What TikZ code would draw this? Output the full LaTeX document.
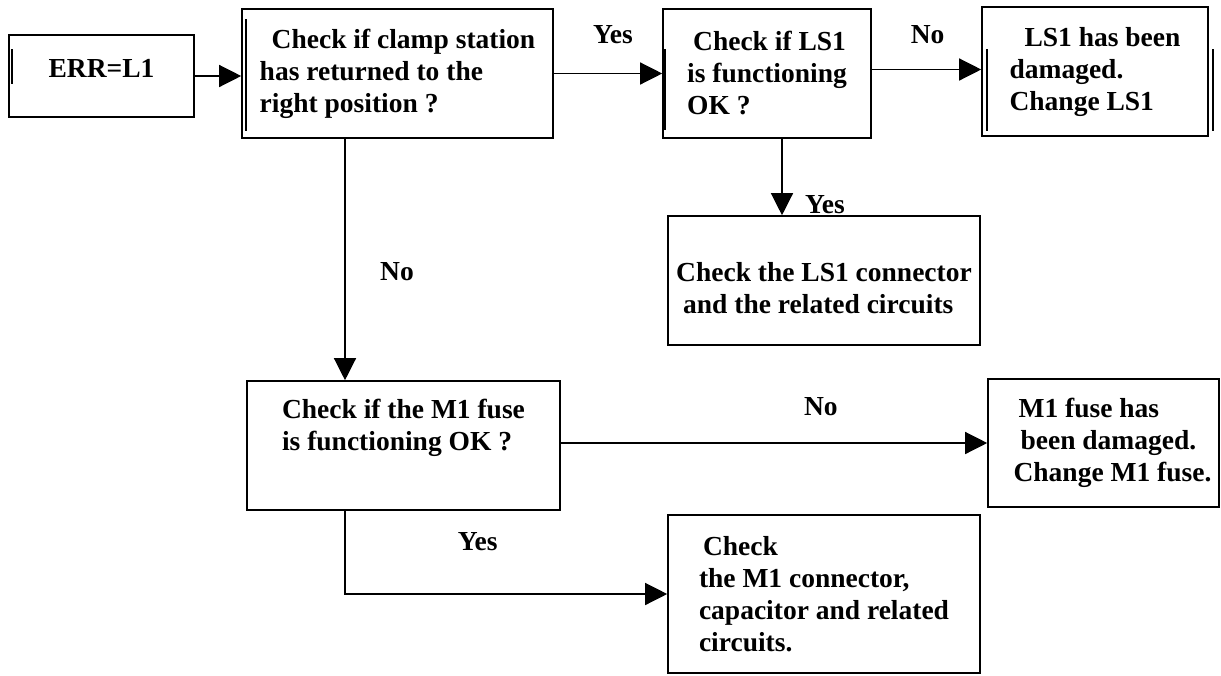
\documentclass[tikz,border=0pt]{standalone}
\usepackage{fontspec}
\setmainfont{Liberation Serif}
\usetikzlibrary{arrows.meta,positioning}
\tikzset{
    flowline/.style={->, line width=1.3pt},
    lbl/.style={font=\fontsize{27.5pt}{32pt}\selectfont\bfseries, inner sep=0pt},
    bar/.style={line width=1.6pt}
}
\newcommand{\flowbox}[5]{
    \node[
        draw,
        line width=1.6pt,
        minimum width=#3,
        minimum height=#4,
        inner sep=0pt,
        align=left,
        font=\fontsize{27.5pt}{32pt}\selectfont\bfseries
    ] (#1) at (#2) {#5};
}

\begin{document}
\begin{tikzpicture}[x=1pt,y=1pt,>={Triangle[length=22pt,width=22pt]}]
    \useasboundingbox (0,0) rectangle (1221,-675);

    % top row
    \flowbox{err}{101.5,-76}{185pt}{82pt}{ERR=L1\\[-16pt]\mbox{}}
    \flowbox{clamp}{397.5,-73.5}{311pt}{129pt}{\hspace*{12pt}Check if clamp station\\has returned to the\\right position ?}
    \flowbox{lscheck}{767,-73.5}{208pt}{129pt}{\hspace*{6pt}Check if LS1\\is functioning\\OK ?}
    \flowbox{lsdamaged}{1095,-71.5}{226pt}{129pt}{\hspace*{15pt}LS1 has been\\damaged.\\Change LS1}
    \flowbox{lsconn}{824,-280.5}{312pt}{129pt}{\mbox{}\\[3pt]Check the LS1 connector\\\hspace*{7pt}and the related circuits}

    % lower part
    \flowbox{m1check}{403.5,-445.5}{313pt}{129pt}{Check if the M1 fuse\\is functioning OK ?\\[10pt]\mbox{}}
    \flowbox{m1damaged}{1103.5,-443}{231pt}{128pt}{\hspace*{23pt}M1 fuse has\\\hspace*{25pt}been damaged.\\\hspace*{18pt}Change M1 fuse.}
    \flowbox{m1conn}{824,-594}{312pt}{158pt}{\hspace*{4pt}Check\\the M1 connector,\\capacitor and related\\circuits.}

    % inner bars
    \draw[bar] ([shift={(4,-15)}]err.north west) -- ++(0,-35);
    \draw[bar] ([shift={(5,-11)}]clamp.north west) -- ++(0,-112);
    \draw[bar] ([shift={(3,-41)}]lscheck.north west) -- ++(0,-81);
    \draw[bar] ([shift={(6,-43)}]lsdamaged.north west) -- ++(0,-82);
    \draw[bar] ([shift={(4,-43)}]lsdamaged.north east) -- ++(0,-82);

    \draw[flowline] (err.east) -- (err.east -| clamp.west);
    \draw[flowline] (clamp.east) -- (clamp.east -| lscheck.west) node[lbl, pos=0.545, yshift=38.5pt] {Yes};
    \draw[flowline] ([yshift=4pt]lscheck.east) -- ([yshift=4pt]lscheck.east -| lsdamaged.west) node[lbl, pos=0.51, yshift=34.5pt] {No};
    \draw[flowline] ([xshift=15pt]lscheck.south) -- ([xshift=15pt]lscheck.south |- lsconn.north) node[lbl, pos=0.86, xshift=43pt] {Yes};
    \draw[flowline] ([xshift=-52.5pt]clamp.south) -- ([xshift=-52.5pt]clamp.south |- m1check.north) node[lbl, pos=0.55, xshift=52pt] {No};
    \draw[flowline] (m1check.east |- m1damaged.west) -- (m1damaged.west) node[lbl, pos=0.61, yshift=36pt] {No};
    \draw[flowline] ([xshift=-58.5pt]m1check.south) |- (m1conn.west) node[lbl, pos=0.706, yshift=52pt] {Yes};
\end{tikzpicture}
\end{document}
